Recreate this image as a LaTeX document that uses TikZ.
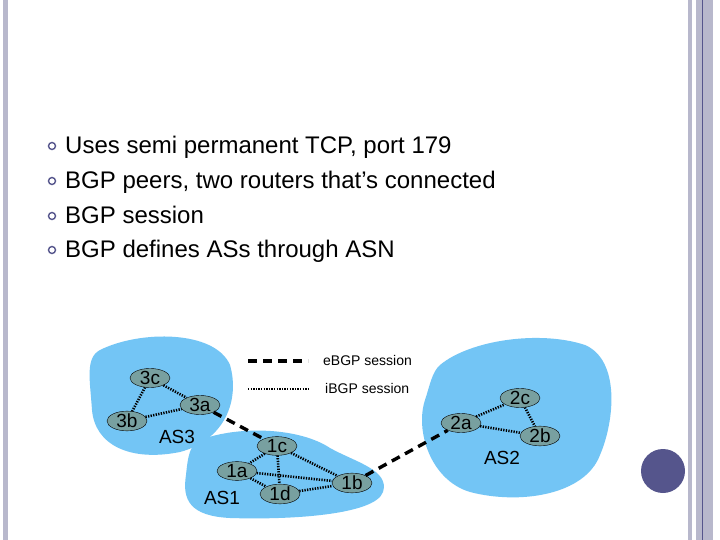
\documentclass[tikz,border=0pt]{standalone}
\usepackage{fontspec}
\setmainfont{Liberation Sans}
\usetikzlibrary{shapes.geometric}
\definecolor{blob}{RGB}{115,197,245}
\definecolor{rt}{RGB}{120,160,160}
\definecolor{bar}{RGB}{184,184,204}
\definecolor{dot}{RGB}{85,85,140}
\tikzset{
  router/.style={ellipse,draw=black,fill=rt,minimum width=40pt,minimum height=18pt,inner sep=0pt,font=\fontsize{19}{19}\selectfont},
  ibgp/.style={line width=2.6pt,dash pattern=on 1.3pt off 1.3pt},
  ebgp/.style={line width=3.4pt,dash pattern=on 9pt off 6pt},
  bul/.style={circle,draw=dot,line width=1.4pt,minimum size=7pt,inner sep=0pt},
  btxt/.style={anchor=base west,font=\fontsize{24}{24}\selectfont,inner sep=0pt},
  asl/.style={font=\fontsize{19}{19}\selectfont,inner sep=0pt},
  leg/.style={anchor=west,font=\fontsize{14}{14}\selectfont,inner sep=0pt}
}
\begin{document}
\begin{tikzpicture}[x=1pt,y=-1pt]
\useasboundingbox (0,0) rectangle (720,540);
\fill[white] (0,0) rectangle (720,540);
% borders
\fill[bar] (3,0) rectangle (8,540);
\fill[bar] (688,0) rectangle (692,540);
\fill[bar] (696,0) rectangle (713,540);
\draw[dot,line width=0.6pt] (702.5,0) -- (702.5,540);
\fill[dot] (663,471) circle (22);
% bullets
\foreach \y/\t [count=\i] in {154/{Uses semi permanent TCP, port 179},189/{BGP peers, two routers that’s connected},224/{BGP session},258/{BGP defines ASs through ASN}}{
  \node[bul] (b\i) at (52,\y-8) {};
  \node[btxt] (t\i) at (65,\y) {\t};
}
% blobs
\fill[blob] (100,350) .. controls (140,330) and (215,330) .. (230,365)
  .. controls (240,400) and (225,440) .. (180,452)
  .. controls (130,462) and (95,445) .. (92,410)
  .. controls (90,380) and (85,358) .. (100,350) -- cycle;
\fill[blob] (200,440) .. controls (240,425) and (300,428) .. (330,448)
  .. controls (355,462) and (390,470) .. (383,492)
  .. controls (375,515) and (290,520) .. (230,518)
  .. controls (190,516) and (182,500) .. (186,475)
  .. controls (188,455) and (190,445) .. (200,440) -- cycle;
\fill[blob] (440,365) .. controls (470,340) and (540,330) .. (585,345)
  .. controls (620,360) and (615,420) .. (600,455)
  .. controls (585,495) and (520,505) .. (470,492)
  .. controls (430,480) and (415,430) .. (425,400)
  .. controls (430,385) and (432,372) .. (440,365) -- cycle;
% legend
\coordinate (le1) at (248,361); \coordinate (le2) at (308,361);
\coordinate (li1) at (248,389); \coordinate (li2) at (310,389);
\draw[ebgp] (le1) -- (le2);
\draw[ibgp] (li1) -- (li2);
\node[leg] (lt1) at (323,360) {eBGP session};
\node[leg] (lt2) at (325,388) {iBGP session};
% routers
\node[router] (3c) at (150,378) {3c};
\node[router] (3a) at (200,405) {3a};
\node[router] (3b) at (127,421) {3b};
\node[router] (1c) at (277,446) {1c};
\node[router] (1a) at (237,471) {1a};
\node[router] (1d) at (280,494) {1d};
\node[router] (1b) at (352,483) {1b};
\node[router] (2a) at (461,423) {2a};
\node[router] (2c) at (520,398) {2c};
\node[router] (2b) at (540,436) {2b};
\foreach \a/\b in {3c/3a,3c/3b,3b/3a,1c/1a,1c/1d,1c/1b,1a/1b,1a/1d,1d/1b,2a/2c,2a/2b,2c/2b}{
  \draw[ibgp] (\a) -- (\b);
}
\draw[ebgp] (3a) -- (1c);
\draw[ebgp] (1b) -- (2a);
\node[asl] (as3) at (177,437) {AS3};
\node[asl] (as1) at (222,498) {AS1};
\node[asl] (as2) at (502,458) {AS2};
\end{tikzpicture}
\end{document}
